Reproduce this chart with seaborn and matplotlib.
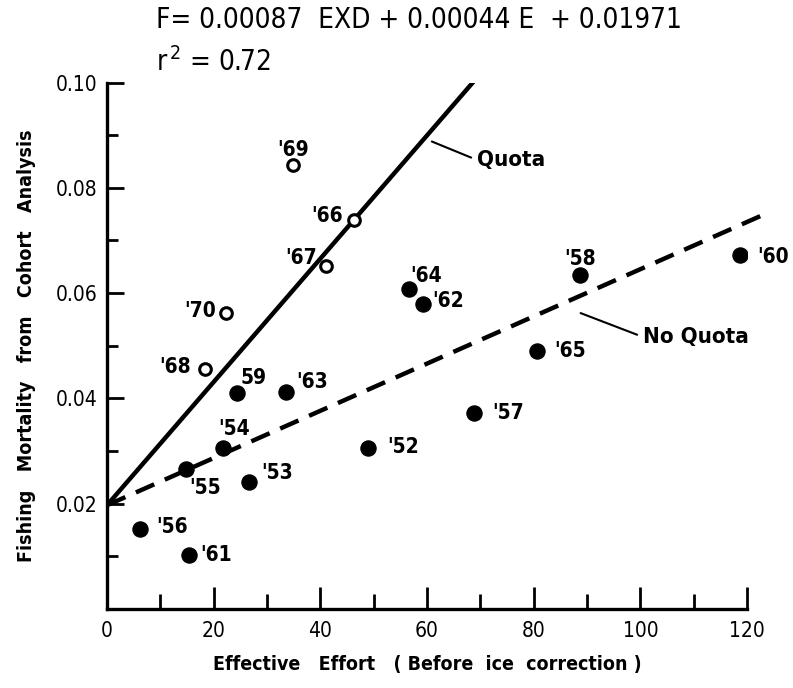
import pandas as pd
import matplotlib.pyplot as plt
import seaborn as sns
from matplotlib.ticker import MultipleLocator

# Veriler
quota_years = ["'69", "'66", "'67", "'70", "'68"]
quota_effort = [34.8, 46.3, 41.0, 22.3, 18.4]
quota_mortality = [0.0843, 0.0738, 0.0651, 0.0562, 0.0455]

noquota_years = ["59", "'63", "'64", "'62", "'58", "'60", "'65", "'57",
                 "'52", "'54", "'55", "'53", "'56", "'61"]
noquota_effort = [24.3, 33.5, 56.7, 59.3, 88.6, 118.6, 80.6, 68.9,
                  49.0, 21.7, 14.8, 26.6, 6.1, 15.4]
noquota_mortality = [0.0410, 0.0413, 0.0608, 0.0580, 0.0634, 0.0673, 0.0490, 0.0373,
                     0.0305, 0.0305, 0.0265, 0.0242, 0.0152, 0.0103]

# Regresyon doğruları
quota_line_x = [0, 69.0]
quota_line_y = [0.0197, 0.1005]
noquota_line_x = [0, 124.0]
noquota_line_y = [0.0197, 0.0753]

# Etiket kaydırmaları (piksel)
quota_offsets = [(0, 15), (-27, 4), (-25, 8), (-26, 2), (-30, 2)]
noquota_offsets = [(17, 15), (26, 10), (17, 13), (25, 3), (1, 16), (34, -2), (33, 0), (34, 0),
                   (35, 1), (11, 19), (19, -19), (28, 9), (32, 2), (27, 0)]

quota = pd.DataFrame({'E': quota_effort, 'F': quota_mortality, 'yil': quota_years})
noquota = pd.DataFrame({'E': noquota_effort, 'F': noquota_mortality, 'yil': noquota_years})

sns.set_style('ticks')
plt.rcParams['font.family'] = ['DejaVu Sans']
plt.rcParams['font.stretch'] = 'condensed'
plt.rcParams['text.color'] = 'black'
plt.rcParams['axes.labelcolor'] = 'black'
plt.rcParams['xtick.color'] = 'black'
plt.rcParams['ytick.color'] = 'black'

fig = plt.figure(figsize=(7.93, 6.88), dpi=100)
ax = fig.add_axes([0.135, 0.115, 0.807, 0.765])

# Doğrular
sns.lineplot(x=quota_line_x, y=quota_line_y, ax=ax, color='black', lw=3.2)
sns.lineplot(x=noquota_line_x, y=noquota_line_y, ax=ax, color='black', lw=3.2)
ax.lines[-1].set_dashes((4.5, 2.6))
ax.lines[-1].set_clip_on(False)

# Noktalar
sns.scatterplot(data=noquota, x='E', y='F', ax=ax, color='black', s=120,
                edgecolor='black', zorder=4)
sns.scatterplot(data=quota, x='E', y='F', ax=ax, facecolor='white', s=70,
                edgecolor='black', linewidth=2.2, zorder=4)

lbl = dict(fontsize=15, fontweight='bold', fontstretch='condensed',
           textcoords='offset pixels', ha='center', va='center')
for i, r in quota.iterrows():
    dx, dy = quota_offsets[i]
    ax.annotate(r['yil'], (r['E'], r['F']), xytext=(dx, dy), **lbl)
for i, r in noquota.iterrows():
    dx, dy = noquota_offsets[i]
    ax.annotate(r['yil'], (r['E'], r['F']), xytext=(dx, dy), **lbl)

# Quota / No Quota etiketleri
ax.annotate('Quota', xy=(60.9, 0.0888), xytext=(477, 688 - 160), textcoords='figure pixels',
            ha='left', va='center', fontsize=16, fontweight='bold', fontstretch='condensed',
            arrowprops=dict(arrowstyle='-', color='black', lw=1.5, shrinkA=2, shrinkB=0,
                            relpos=(0, 0.5)))
ax.annotate('No Quota', xy=(88.8, 0.0562), xytext=(643, 688 - 337), textcoords='figure pixels',
            ha='left', va='center', fontsize=16, fontweight='bold', fontstretch='condensed',
            arrowprops=dict(arrowstyle='-', color='black', lw=1.5, shrinkA=2, shrinkB=0,
                            relpos=(0, 0.5)))

# Eksenler
ax.set_xlim(0, 120)
ax.set_ylim(0, 0.10)
ax.xaxis.set_major_locator(MultipleLocator(20))
ax.xaxis.set_minor_locator(MultipleLocator(10))
ax.yaxis.set_major_locator(MultipleLocator(0.02))
ax.yaxis.set_minor_locator(MultipleLocator(0.01))
ax.set_xticks([0, 20, 40, 60, 80, 100, 120])
ax.set_xticklabels(['0', '20', '40', '60', '80', '100', '120'])
ax.set_yticks([0.02, 0.04, 0.06, 0.08, 0.10])
ax.set_yticklabels(['0.02', '0.04', '0.06', '0.08', '0.10'])
ax.tick_params(which='both', bottom=True, left=True, top=False, right=False)
ax.tick_params(which='major', direction='in', length=12, width=2, labelsize=15, pad=7)
ax.tick_params(which='minor', direction='in', length=8, width=2)
ax.tick_params(axis='x', which='major', length=16, pad=9)
ax.tick_params(axis='x', which='minor', length=11)
for s in ['top', 'right']:
    ax.spines[s].set_visible(False)
for s in ['left', 'bottom']:
    ax.spines[s].set_linewidth(2.4)
    ax.spines[s].set_color('black')

ax.set_xlabel('Effective   Effort   ( Before  ice  correction )', fontsize=14,
              fontweight='bold', labelpad=10)
ax.set_ylabel('Fishing   Mortality   from   Cohort   Analysis', fontsize=14,
              fontweight='bold', labelpad=14)

# Denklem
fig.text(156 / 793, 1 - 20 / 688, 'F= 0.00087  EXD + 0.00044 E  + 0.01971', fontsize=20,
         ha='left', va='center', fontstretch='condensed')
fig.text(156 / 793, 1 - 62 / 688, r'r$^{\,2}$ = 0.72', fontsize=20,
         ha='left', va='center', fontstretch='condensed')

plt.savefig('out.png', dpi=100)
